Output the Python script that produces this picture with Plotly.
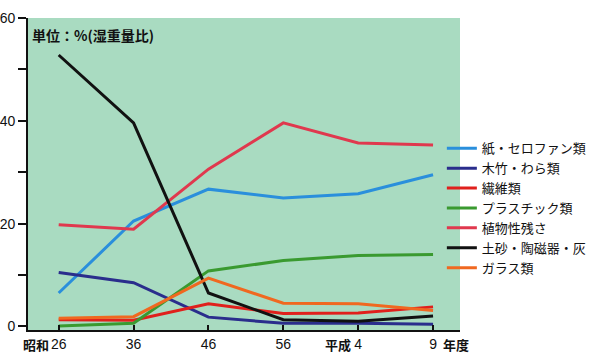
import plotly.graph_objects as go

years = ["26", "36", "46", "56", "4", "9"]
series_names = ["紙・セロファン類", "木竹・わら類", "繊維類", "プラスチック類",
                "植物性残さ", "土砂・陶磁器・灰", "ガラス類"]
paper = [6.5, 20.5, 26.7, 25.0, 25.8, 29.5]
wood = [10.5, 8.5, 1.8, 0.6, 0.6, 0.4]
textile = [1.3, 1.2, 4.4, 2.5, 2.6, 3.8]
plastic = [0.1, 0.6, 10.8, 12.8, 13.8, 14.0]
vegetable = [19.8, 18.9, 30.6, 39.6, 35.7, 35.3]
soil = [52.8, 39.6, 6.5, 1.3, 1.0, 2.0]
glass = [1.6, 1.9, 9.4, 4.5, 4.4, 3.1]
colors = ["#2a8fdc", "#2a2d8c", "#e0201c", "#3a9a30", "#e0384e", "#111111", "#f06820"]

data = [paper, wood, textile, plastic, vegetable, soil, glass]

fig = go.Figure()
for name, vals, col in zip(series_names, data, colors):
    fig.add_trace(go.Scatter(x=list(range(len(years))), y=vals, name=name, mode="lines",
                             line=dict(color=col, width=3)))

jp = "Noto Sans CJK JP"
fig.update_layout(
    width=600, height=358,
    margin=dict(l=28, r=140, t=18, b=28, autoexpand=False),
    paper_bgcolor="white",
    plot_bgcolor="#a9dbc1",
    font=dict(family=jp, color="#111"),
    legend=dict(x=0.958, y=0.39, xanchor="left", yanchor="middle",
                font=dict(family=jp, size=13, color="#111"),
                itemwidth=30, tracegroupgap=0, bgcolor="rgba(0,0,0,0)"),
    xaxis=dict(range=[-0.41, 5.36], tickmode="array", tickvals=list(range(6)),
               ticktext=years, showgrid=False, zeroline=False,
               showline=True, linecolor="#111", linewidth=2,
               ticks="inside", ticklen=5, tickwidth=2, tickcolor="#111",
               tickfont=dict(family="Liberation Sans", size=14, color="#111")),
    yaxis=dict(range=[-0.7, 60], tickmode="array", tickvals=[0, 10, 20, 30, 40, 50, 60],
               ticktext=["0", "", "20", "", "40", "", "60"], showgrid=False, zeroline=False,
               showline=True, linecolor="#111", linewidth=2,
               ticks="outside", ticklen=8, tickwidth=2, tickcolor="#111",
               tickfont=dict(family="Liberation Sans", size=14, color="#111")),
    showlegend=True,
)

fig.add_annotation(text="<b>単位：%(湿重量比)</b>", xref="paper", yref="paper", x=0.005, y=0.985,
                   xanchor="left", yanchor="top", showarrow=False,
                   font=dict(family=jp, size=14, color="#111"))
fig.add_annotation(text="<b>昭和</b>", xref="x", yref="paper", x=0, y=0, xshift=-8,
                   yshift=-3, xanchor="right", yanchor="top", showarrow=False,
                   font=dict(family=jp, size=13, color="#111"))
fig.add_annotation(text="<b>平成</b>", xref="x", yref="paper", x=4, y=0, xshift=-5,
                   yshift=-3, xanchor="right", yanchor="top", showarrow=False,
                   font=dict(family=jp, size=13, color="#111"))
fig.add_annotation(text="<b>年度</b>", xref="x", yref="paper", x=5, y=0, xshift=8,
                   yshift=-3, xanchor="left", yanchor="top", showarrow=False,
                   font=dict(family=jp, size=13, color="#111"))

fig.write_html("out.html", config={"displayModeBar": False},
               post_script="document.body.style.margin='0';document.body.style.overflow='hidden';")
